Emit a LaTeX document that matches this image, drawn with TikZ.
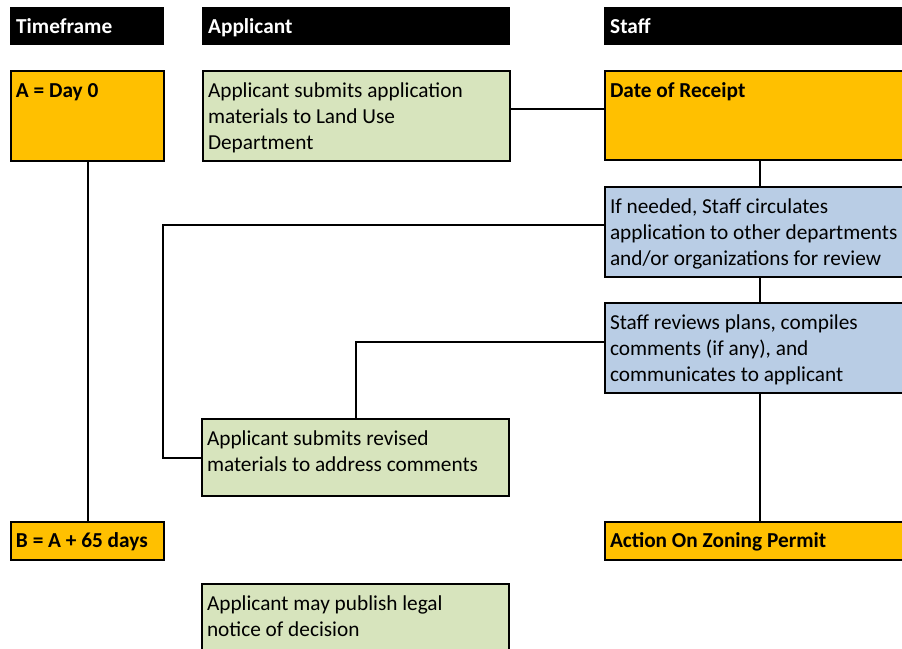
\documentclass[tikz,border=0pt]{standalone}
\usepackage{fontspec}
\setmainfont{Carlito}
\definecolor{gold}{HTML}{FFC000}
\definecolor{sage}{HTML}{D7E4BD}
\definecolor{steel}{HTML}{B9CDE5}
\newcommand\celltxt[3]{\parbox[t][#1][t]{#2}{\raggedright\rule{0pt}{21pt}#3}}
\tikzset{
  hdr/.style={fill=black, text=white, font=\fontsize{21.3}{26}\selectfont\bfseries, anchor=north west, inner xsep=6pt, inner ysep=0pt, text height=17pt, text depth=3pt, minimum height=38pt, text width=#1, align=left},
  cell/.style={draw=black, line width=2pt, anchor=north west, inner sep=5pt, fill=#1},
  wire/.style={line width=2pt, draw=black}
}
\begin{document}
\begin{tikzpicture}[x=1pt, y=-1pt, font=\fontsize{21.3}{26}\selectfont]
\useasboundingbox (0,0) rectangle (902,648);
\clip (0,0) rectangle (902,648);
% headers
\node[hdr=142pt] (h1) at (10,7) {Timeframe};
\node[hdr=296pt] (h2) at (202,7) {Applicant};
\node[hdr=296pt] (h3) at (604,7) {Staff};
% timeframe
\node[cell=gold] (a0) at (10,70) {\celltxt{80pt}{143pt}{\textbf{A = Day 0}}};
\node[cell=gold] (b65) at (10,521) {\parbox[t][28pt][t]{143pt}{\rule{0pt}{20pt}\textbf{B = A + 65 days}}};
% applicant
\node[cell=sage] (app1) at (202,70) {\celltxt{80pt}{297pt}{Applicant submits application\\ materials to Land Use\\ Department}};
\node[cell=sage] (rev) at (201,418) {\celltxt{67pt}{297pt}{Applicant submits revised\\ materials to address comments}};
\node[cell=sage] (pub) at (201,583) {\celltxt{90pt}{297pt}{Applicant may publish legal\\ notice of decision}};
% staff
\node[cell=gold] (rcpt) at (604,70) {\celltxt{79pt}{299pt}{\textbf{Date of Receipt}}};
\node[cell=steel] (circ) at (604,186) {\celltxt{80pt}{299pt}{If needed, Staff circulates\\ application to other departments\\ and/or organizations for review}};
\node[cell=steel] (revw) at (604,302) {\celltxt{80pt}{299pt}{Staff reviews plans, compiles\\ comments (if any), and\\ communicates to applicant}};
\node[cell=gold] (act) at (604,521) {\parbox[t][28pt][t]{299pt}{\rule{0pt}{20pt}\textbf{Action On Zoning Permit}}};
% connectors
\draw[wire] (a0.south) -- (b65.north);
\draw[wire] ([yshift=7.5pt]app1.east) -- ([yshift=7.5pt]app1.east -| rcpt.west);
\draw[wire] (rcpt.south) -- (circ.north);
\draw[wire] (circ.south) -- (revw.north);
\draw[wire] (revw.south) -- (act.north);
\draw[wire] ([yshift=7.5pt]circ.west) -| ([xshift=-38pt]rev.west) -- (rev.west);
\draw[wire] ([yshift=6.5pt]revw.west) -| (rev.north);
\end{tikzpicture}
\end{document}
